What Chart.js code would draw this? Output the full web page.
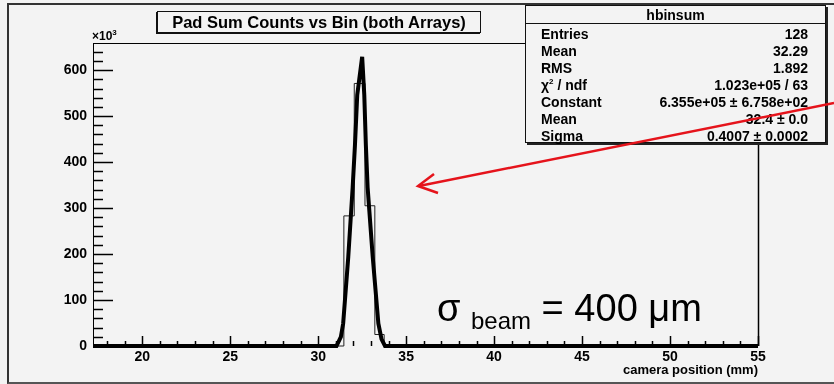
<!DOCTYPE html>
<html lang="en">
<head>
    <meta charset="UTF-8">
    <title>Pad Sum Counts vs Bin</title>
    <script src="https://cdnjs.cloudflare.com/ajax/libs/chart.js/4.4.1/chart.umd.min.js"></script>
    <style>
        body {
            margin: 0;
            background: #f3f3f3;
            font-family: 'Liberation Sans', Arial, sans-serif;
        }

        .pad {
            position: relative;
            width: 834px;
            height: 384px;
            overflow: hidden;
            background: #f3f3f3;
        }

        .pad-border {
            position: absolute;
            left: 7px;
            top: 3px;
            width: 900px;
            height: 377px;
            border-top: 2px solid #333;
            border-left: 2px solid #333;
            border-bottom: 2px solid #555;
        }

        canvas {
            position: absolute;
            left: 0;
            top: 0;
        }

        .title-box {
            position: absolute;
            left: 157px;
            top: 11px;
            width: 322px;
            height: 20px;
            border: 1px solid #111;
            box-shadow: -1px 1px 0 #111;
            background: #f3f3f3;
            font-weight: bold;
            font-size: 16.5px;
            line-height: 21px;
            text-align: center;
        }

        .exponent {
            position: absolute;
            left: 92px;
            top: 28px;
            font-size: 12px;
            font-weight: bold;
        }

        .exponent sup {
            font-size: 8px;
        }

        .stats {
            position: absolute;
            left: 525px;
            top: 5px;
            width: 299px;
            height: 136px;
            border: 1px solid #111;
            box-shadow: 2px 2px 0 #222;
            background: #f3f3f3;
            font-weight: bold;
            font-size: 14px;
        }

        .stats .head {
            position: absolute;
            left: 0;
            right: 0;
            top: 0;
            height: 17px;
            line-height: 19px;
            text-align: center;
            border-bottom: 1px solid #111;
            font-size: 14px;
        }

        .stats .row {
            position: absolute;
            left: 15px;
            right: 17px;
            height: 16px;
            line-height: 16px;
            display: flex;
            justify-content: space-between;
        }

        .stats sup {
            font-size: 8px;
            line-height: 0;
        }

        .note {
            position: absolute;
            left: 437px;
            top: 289px;
            font-size: 38px;
            line-height: 38px;
            white-space: nowrap;
        }

        .note .sub {
            font-size: 24px;
            position: relative;
            top: 8px;
        }

        .arrow {
            position: absolute;
            left: 0;
            top: 0;
        }
    </style>
</head>
<body>
<div class="pad">
    <div class="pad-border"></div>
    <canvas id="chart" width="834" height="384"></canvas>
    <div class="title-box">Pad Sum Counts vs Bin (both Arrays)</div>
    <div class="exponent">×10<sup>3</sup></div>
    <div class="stats" id="stats"><div class="head">hbinsum</div></div>
    <div class="note">σ <span class="sub">beam</span> = 400 μm</div>
    <svg class="arrow" width="834" height="384">
        <line x1="834" y1="103" x2="419" y2="186" stroke="#e5131b" stroke-width="2.5"/>
        <polyline points="434,174 418,186 438,193" fill="none" stroke="#e5131b" stroke-width="2.5"/>
    </svg>
</div>

<script>
    // histogram bins around the peak (counts in thousands)
    const binEdges = [31.46, 32.05, 32.66, 33.22, 33.75];
    const binCounts = [283, 571, 305, 25];

    // gaussian fit curve as drawn
    const fitX = [17.2, 31.04, 31.29, 31.42, 31.71, 31.96, 32.09, 32.22, 32.5, 32.62, 32.71, 32.81, 33.1, 33.42, 33.6, 33.8, 55];
    const fitY = [0, 0, 20, 49, 194, 345, 437, 546, 629, 546, 437, 345, 194, 49, 15, 0, 0];

    const xTicks = [20, 25, 30, 35, 40, 45, 50, 55];
    const yTicks = [0, 100, 200, 300, 400, 500, 600];
    const xMin = 17.2, xMax = 55;
    const yMin = 0, yMax = 659;

    const statRows = [
        ['Entries', '128'],
        ['Mean', '32.29'],
        ['RMS', '1.892'],
        ['χ<sup>2</sup> / ndf', '1.023e+05 / 63'],
        ['Constant', '6.355e+05 ± 6.758e+02'],
        ['Mean', '32.4 ± 0.0'],
        ['Sigma', '0.4007 ± 0.0002']
    ];

    // stats box
    const stats = document.getElementById('stats');
    statRows.forEach(function(r, i) {
        const row = document.createElement('div');
        row.className = 'row';
        row.style.top = (20 + i * 17) + 'px';
        row.innerHTML = '<span>' + r[0] + '</span><span>' + r[1] + '</span>';
        stats.appendChild(row);
    });

    // histogram as a stepped outline
    const histPoints = [{x: xMin, y: 0}];
    binCounts.forEach(function(c, i) {
        histPoints.push({x: binEdges[i], y: c});
    });
    histPoints.push({x: binEdges[binEdges.length - 1], y: 0});
    histPoints.push({x: xMax, y: 0});

    const fitPoints = fitX.map(function(x, i) { return {x: x, y: fitY[i]}; });

    // ROOT style frame and ticks drawn inside the frame
    const frameTicks = {
        id: 'frameTicks',
        beforeDatasetsDraw(chart) {
            const ctx = chart.ctx;
            const a = chart.chartArea;
            const xs = chart.scales.x, ys = chart.scales.y;
            ctx.save();
            ctx.strokeStyle = '#000';
            ctx.lineWidth = 1;
            ctx.beginPath();
            // frame
            ctx.moveTo(a.left + 0.5, a.top + 0.5);
            ctx.lineTo(a.right + 0.5, a.top + 0.5);
            ctx.moveTo(a.left + 0.5, a.top);
            ctx.lineTo(a.left + 0.5, a.bottom);
            ctx.stroke();
            ctx.lineWidth = 1.5;
            ctx.beginPath();
            ctx.moveTo(a.right + 0.5, a.top);
            ctx.lineTo(a.right + 0.5, a.bottom);
            ctx.stroke();

            ctx.lineWidth = 1.5;
            ctx.beginPath();
            for (let v = 0; v <= 640; v += 20) {
                const y = Math.round(ys.getPixelForValue(v)) + 0.5;
                const len = v % 100 === 0 ? 20 : 10;
                ctx.moveTo(a.left, y);
                ctx.lineTo(a.left + len, y);
            }
            for (let v = 18; v <= 55; v += 1) {
                const x = Math.round(xs.getPixelForValue(v)) + 0.5;
                const len = v % 5 === 0 ? 10 : 5;
                ctx.moveTo(x, a.bottom);
                ctx.lineTo(x, a.bottom - len);
            }
            ctx.stroke();
            ctx.restore();
        }
    };

    new Chart(document.getElementById('chart'), {
        type: 'line',
        data: {
            datasets: [
                {
                    label: 'fit',
                    data: fitPoints,
                    borderColor: '#000',
                    borderWidth: 4,
                    pointRadius: 0,
                    tension: 0,
                    clip: false,
                    order: 0
                },
                {
                    label: 'hbinsum',
                    data: histPoints,
                    stepped: 'before',
                    borderColor: '#222',
                    borderWidth: 1,
                    pointRadius: 0,
                    clip: false,
                    order: 1
                }
            ]
        },
        options: {
            responsive: false,
            animation: false,
            events: [],
            layout: {
                padding: {top: 43, right: 76, bottom: 0, left: 0}
            },
            plugins: {
                legend: {display: false},
                tooltip: {enabled: false}
            },
            scales: {
                x: {
                    type: 'linear',
                    min: xMin,
                    max: xMax,
                    afterBuildTicks: function(scale) {
                        scale.ticks = xTicks.map(function(v) { return {value: v}; });
                    },
                    afterFit: function(scale) {
                        scale.height = 38;
                    },
                    grid: {display: false, drawTicks: false},
                    border: {display: false},
                    ticks: {
                        color: '#000',
                        font: {family: 'Liberation Sans', size: 14, weight: 'bold'},
                        padding: 3,
                        maxRotation: 0,
                        autoSkip: false
                    },
                    title: {
                        display: true,
                        text: 'camera position (mm)',
                        align: 'end',
                        color: '#000',
                        font: {family: 'Liberation Sans', size: 13, weight: 'bold'},
                        padding: {top: 0, bottom: 6}
                    }
                },
                y: {
                    min: yMin,
                    max: yMax,
                    afterBuildTicks: function(scale) {
                        scale.ticks = yTicks.map(function(v) { return {value: v}; });
                    },
                    afterFit: function(scale) {
                        scale.width = 93;
                    },
                    grid: {display: false, drawTicks: false},
                    border: {display: false},
                    ticks: {
                        color: '#000',
                        font: {family: 'Liberation Sans', size: 14, weight: 'bold'},
                        padding: 6
                    }
                }
            }
        },
        plugins: [frameTicks]
    });
</script>
</body>
</html>
